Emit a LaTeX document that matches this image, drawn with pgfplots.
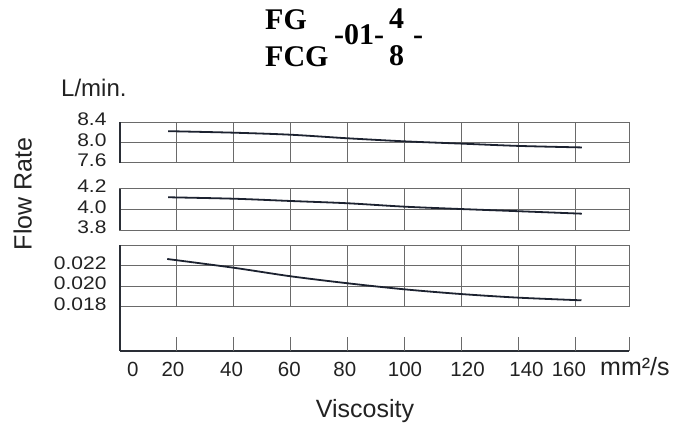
\documentclass[border=0pt]{standalone}
\usepackage{fontspec}
\setmainfont{Liberation Sans}
\newfontfamily\titlefont{Liberation Serif}
\usepackage{graphicx}
\usepackage{pgfplots}
\pgfplotsset{compat=1.18}
\definecolor{gridc}{HTML}{6A6A6A}
\definecolor{curvec}{HTML}{1C2230}
\definecolor{axc}{HTML}{2A2E36}
\definecolor{txt}{HTML}{222222}
\newcommand\sq[1]{\scalebox{1}[0.87]{#1}}

\pgfplotsset{
 panel/.style={
   scale only axis, width=509.6pt, xmin=0, xmax=179,
   xtick={20,40,...,160}, xticklabels={},
   xmajorgrids, ymajorgrids,
   scaled y ticks=false,
   major tick length=0pt,
   axis line style={gridc, line width=0.9pt},
   grid style={gridc, line width=0.9pt},
   tick label style={font=\fontsize{21}{21}\selectfont, text=txt},
   yticklabel style={anchor=east, inner sep=0pt, xshift=-13pt, yshift=2.5pt},
   clip=false,
   after end axis/.code={\draw[axc, line width=2pt] (rel axis cs:0,0) -- (rel axis cs:0,1);},
   anchor=south west,
 },
 curve/.style={curvec, line width=1.8pt, no marks, smooth},
}

\begin{document}
\begin{tikzpicture}[x=1pt,y=1pt]
\path[use as bounding box] (0,0) rectangle (690,426);

% top panel
\begin{axis}[panel, at={(119.7pt,263.3pt)}, height=40.7pt,
  ymin=7.6, ymax=8.4, ytick={7.6,8.0,8.4},
  yticklabels={\sq{7.6},\sq{8.0},\sq{8.4}}]
\addplot[curve] coordinates {(17,8.22)(40,8.19)(60,8.15)(80,8.08)(100,8.02)(120,7.975)(140,7.93)(162.3,7.90)};
\end{axis}

% middle panel
\begin{axis}[panel, at={(119.7pt,196pt)}, height=41.3pt,
  ymin=3.8, ymax=4.2, ytick={3.8,4.0,4.2},
  yticklabels={\sq{3.8},\sq{4.0},\sq{4.2}}]
\addplot[curve] coordinates {(17,4.117)(40,4.103)(60,4.081)(80,4.059)(100,4.026)(120,4.003)(140,3.982)(162.3,3.958)};
\end{axis}

% bottom panel
\begin{axis}[panel, at={(119.7pt,119.3pt)}, height=61.7pt,
  ymin=0.018, ymax=0.024, ytick={0.018,0.020,0.022,0.024},
  yticklabels={\sq{0.018},\sq{0.020},\sq{0.022},{}}]
\addplot[curve] coordinates {(16.7,0.02264)(40,0.02179)(60,0.02096)(80,0.02028)(100,0.01969)(120,0.01923)(140,0.01888)(162.2,0.01862)};
\end{axis}

% x axis
\begin{axis}[scale only axis, width=509.6pt, height=44pt, anchor=south west,
  at={(119.7pt,75.3pt)}, xmin=0, xmax=179, ymin=0, ymax=1,
  axis x line*=bottom, axis y line*=left,
  axis line style={axc, line width=2pt, -},
  ytick=\empty,
  xtick={4.6,18.7,39.3,59.6,79.1,100.2,122.2,142.9,157.8},
  xticklabels={0,20,40,60,80,100,120,140,160},
  major tick length=0pt,
  xticklabel style={font=\fontsize{20.5}{20.5}\selectfont, text=txt, anchor=base, yshift=-26pt},
  extra x ticks={20,40,60,80,100,120,140,160,179},
  extra x tick labels={,,,,,,,,},
  extra x tick style={major tick length=13.4pt, tick align=inside, tick style={gridc, line width=0.9pt}},
  clip=false]
\end{axis}

% texts
\begin{scope}[every node/.style={inner sep=0pt, text=txt}]
\node[anchor=base west, font=\fontsize{24}{24}\selectfont] at (61,329) {L/min.};
\node[rotate=90, anchor=base, font=\fontsize{25}{25}\selectfont] at (31.7,232) {Flow Rate};
\node[anchor=base, font=\fontsize{25}{25}\selectfont] at (365,9) {Viscosity};
\node[anchor=base west, font=\fontsize{25}{25}\selectfont] at (600,51) {mm²/s};
\end{scope}

\begin{scope}[every node/.style={inner sep=0pt, anchor=base west, text=black, font=\titlefont\bfseries\fontsize{30}{30}\selectfont}]
\node at (265,396.7) {FG};
\node at (265,359) {FCG};
\node at (334,381) {-01-};
\node at (389,397.7) {4};
\node at (389,360) {8};
\node at (413,381) {-};
\end{scope}
\end{tikzpicture}
\end{document}
